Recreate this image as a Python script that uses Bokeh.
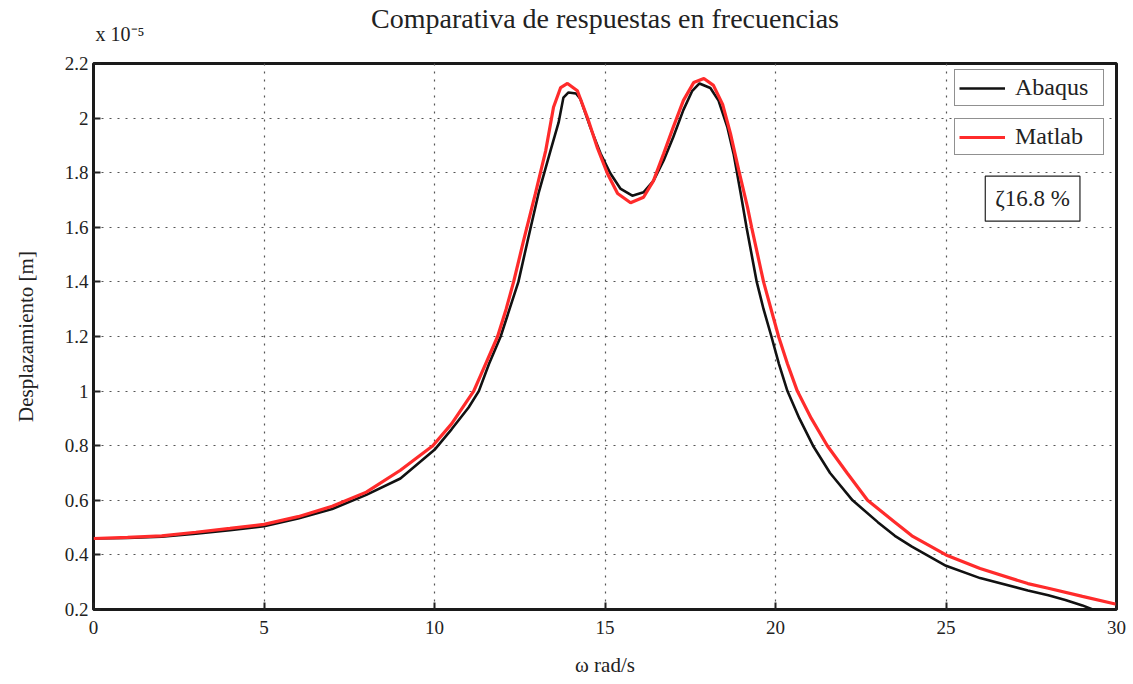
from bokeh.plotting import figure
from bokeh.models import Legend, LegendItem, Label, FixedTicker, Range1d, Title
from bokeh.embed import file_html
from bokeh.resources import INLINE

# ---------------- data (displacement in units of 1e-5 m) ----------------
abaqus_w = [0, 1, 2, 3, 4, 5, 6, 7, 8, 9, 10, 10.5, 11, 11.3, 11.6, 11.94, 12.2, 12.46,
            12.73, 13.05, 13.4, 13.64, 13.78, 13.93, 14.15, 14.28, 14.57, 14.87, 15.16,
            15.45, 15.8, 16.13, 16.42, 16.72, 17.0, 17.3, 17.56, 17.77, 18.09, 18.33,
            18.59, 18.77, 18.98, 19.15, 19.45, 19.65, 19.88, 20.1, 20.35, 20.7, 21.1,
            21.6, 22.26, 23.0, 23.5, 24.0, 25.0, 26.0, 27.4, 28.0, 28.5, 29.0, 29.3, 30.0]
abaqus_u = [0.46, 0.462, 0.467, 0.478, 0.49, 0.505, 0.533, 0.568, 0.62, 0.68, 0.785, 0.86,
            0.94, 1.0, 1.1, 1.2, 1.3, 1.4, 1.55, 1.724, 1.88, 1.984, 2.075, 2.094, 2.09,
            2.07, 1.966, 1.87, 1.797, 1.742, 1.716, 1.728, 1.77, 1.845, 1.93, 2.03, 2.10,
            2.127, 2.11, 2.064, 1.966, 1.87, 1.724, 1.6, 1.4, 1.3, 1.2, 1.1, 1.0, 0.9, 0.8,
            0.7, 0.6, 0.52, 0.47, 0.43, 0.36, 0.315, 0.27, 0.252, 0.235, 0.215, 0.2, 0.18]

matlab_w = [0, 1, 2, 3, 4, 5, 6, 7, 8, 9, 9.95, 10.5, 11.15, 11.5, 11.85, 12.1, 12.32,
            12.61, 12.96, 13.26, 13.49, 13.7, 13.9, 14.19, 14.49, 14.78, 15.07, 15.37,
            15.75, 16.13, 16.42, 16.72, 17.0, 17.3, 17.6, 17.9, 18.18, 18.45, 18.68, 18.92,
            19.18, 19.3, 19.65, 20.09, 20.35, 20.64, 21.05, 21.52, 22.1, 22.7, 23.5, 24.0,
            25.0, 26.0, 27.4, 28.0, 29.0, 29.9, 30.0]
matlab_u = [0.46, 0.464, 0.47, 0.483, 0.497, 0.512, 0.54, 0.578, 0.63, 0.71, 0.8, 0.88,
            1.0, 1.1, 1.2, 1.3, 1.4, 1.55, 1.724, 1.88, 2.04, 2.112, 2.127, 2.10, 2.0, 1.89,
            1.797, 1.724, 1.69, 1.71, 1.77, 1.87, 1.966, 2.065, 2.13, 2.145, 2.12, 2.05,
            1.943, 1.81, 1.673, 1.6, 1.4, 1.2, 1.1, 1.0, 0.9, 0.8, 0.7, 0.6, 0.52, 0.47,
            0.4, 0.35, 0.295, 0.278, 0.248, 0.222, 0.219]

x_ticks = [0, 5, 10, 15, 20, 25, 30]
y_ticks = [0.2, 0.4, 0.6, 0.8, 1.0, 1.2, 1.4, 1.6, 1.8, 2.0, 2.2]
y_tick_labels = ["0.2", "0.4", "0.6", "0.8", "1", "1.2", "1.4", "1.6", "1.8", "2", "2.2"]

title_text = "Comparativa de respuestas en frecuencias"
x_label = "ω rad/s"
y_label = "Desplazamiento [m]"
series_names = ["Abaqus", "Matlab"]
note_text = "ζ16.8 %"
exp_text = "x 10⁻⁵"

FONT = "Liberation Serif"

p = figure(width=1133, height=684, output_backend="svg", toolbar_location=None,
           title=None, x_range=Range1d(0, 30), y_range=Range1d(0.2, 2.2),
           min_border_left=93, min_border_right=17, min_border_top=63,
           min_border_bottom=75)

# exponent note (closest to the frame), then main title above it
exp_title = Title(text=exp_text, align="left", offset=2, standoff=37,
                  text_font=FONT, text_font_size="20px", text_font_style="normal",
                  text_color="#222222")
main_title = Title(text=title_text, align="center", standoff=-62,
                   text_font=FONT, text_font_size="28px", text_font_style="normal",
                   text_color="#222222")
p.add_layout(exp_title, "above")
p.add_layout(main_title, "above")

p.outline_line_color = "#1a1a1a"
p.outline_line_width = 3
p.outline_line_alpha = 1

for ax in (p.xaxis[0], p.yaxis[0]):
    ax.axis_line_color = None
    ax.major_tick_in = 7
    ax.major_tick_out = 0
    ax.major_tick_line_color = "#222222"
    ax.major_tick_line_width = 2
    ax.minor_tick_line_color = None
    ax.major_label_text_font = FONT
    ax.major_label_text_font_size = "19px"
    ax.major_label_text_color = "#222222"
    ax.axis_label_text_font = FONT
    ax.axis_label_text_font_size = "21px"
    ax.axis_label_text_font_style = "normal"
    ax.axis_label_text_color = "#222222"

p.xaxis[0].ticker = FixedTicker(ticks=x_ticks)
p.yaxis[0].ticker = FixedTicker(ticks=y_ticks)
p.yaxis[0].major_label_overrides = {t: l for t, l in zip(y_ticks, y_tick_labels)}
p.xaxis[0].axis_label = x_label
p.yaxis[0].axis_label = y_label
p.xaxis[0].major_label_standoff = 11
p.yaxis[0].major_label_standoff = 5
p.xaxis[0].axis_label_standoff = 16
p.yaxis[0].axis_label_standoff = 24

for g in (p.xgrid[0], p.ygrid[0]):
    g.grid_line_color = "#555555"
    g.grid_line_dash = "2 6"
    g.grid_line_width = 1.2

r_ab = p.line(abaqus_w, abaqus_u, line_color="#111111", line_width=2.6)
r_ml = p.line(matlab_w, matlab_u, line_color="#ff2b2b", line_width=3.2)

legend_common = dict(
    label_text_font=FONT, label_text_font_size="24px", label_text_color="#222222",
    border_line_color="#222222", border_line_width=1.2, background_fill_alpha=1,
    glyph_width=46, glyph_height=20, padding=4, margin=0, label_standoff=10,
    label_width=84, label_height=26,
)
leg1 = Legend(items=[LegendItem(label=series_names[0], renderers=[r_ab])],
              location=(861, 503), **legend_common)
leg2 = Legend(items=[LegendItem(label=series_names[1], renderers=[r_ml])],
              location=(861, 454), **legend_common)
p.add_layout(leg1)
p.add_layout(leg2)

note = Label(x=27.54, y=1.705, text=note_text, text_align="center",
             text_baseline="middle", text_font=FONT, text_font_size="23px",
             text_color="#222222", border_line_color="#222222", border_line_width=1.2,
             background_fill_color="white", padding=10)
p.add_layout(note)

open("out.html", "w").write(file_html(p, INLINE))
